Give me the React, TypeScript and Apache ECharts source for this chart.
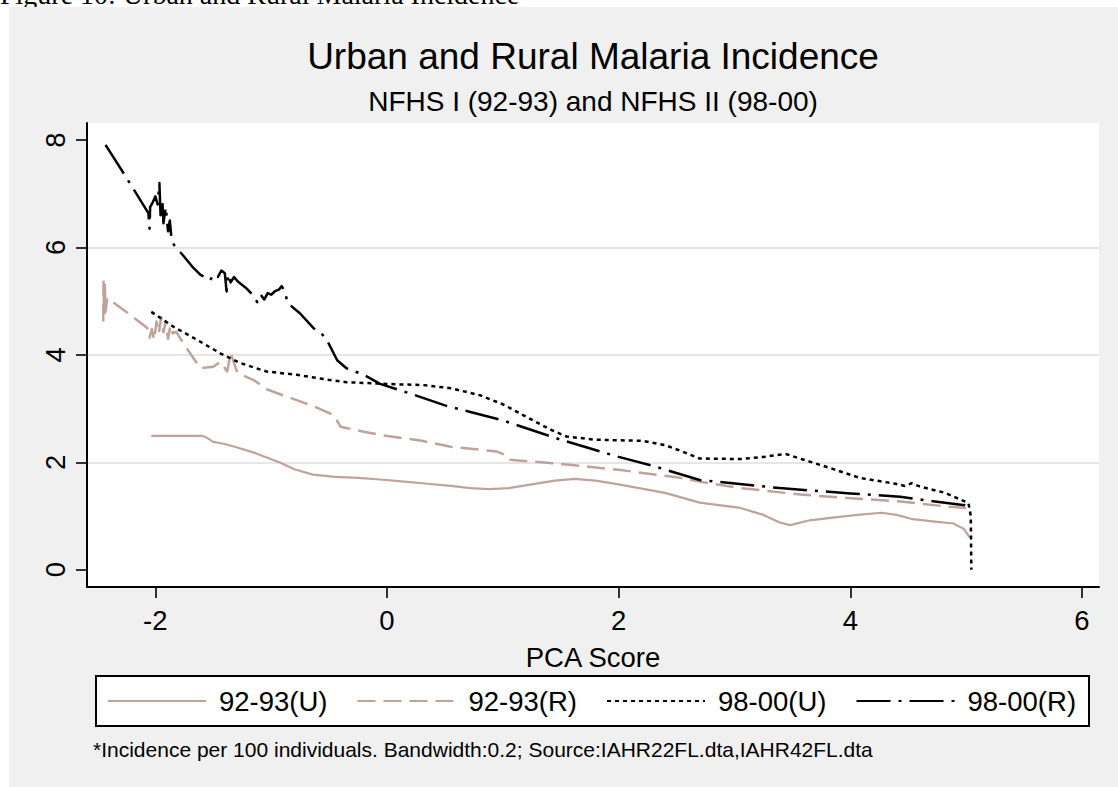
import React, { useEffect, useRef } from 'react';
import * as echarts from 'echarts';

const SERIES_NAMES = ['92-93(U)', '92-93(R)', '98-00(U)', '98-00(R)'];
const X_TICKS = [-2, 0, 2, 4, 6];
const Y_TICKS = [0, 2, 4, 6, 8];

const U92_X = [-2.035, -1.59, -1.55, -1.50, -1.40, -1.30, -1.15, -1.05, -0.92, -0.80, -0.64, -0.45, -0.25, -0.06, 0.15, 0.35, 0.55, 0.72, 0.88, 1.05, 1.25, 1.45, 1.62, 1.80, 2.00, 2.20, 2.40, 2.70, 3.05, 3.25, 3.39, 3.48, 3.65, 3.85, 4.06, 4.27, 4.40, 4.54, 4.75, 4.89, 4.98, 5.03];
const U92_Y = [2.49, 2.49, 2.45, 2.38, 2.34, 2.28, 2.18, 2.10, 1.99, 1.87, 1.77, 1.73, 1.71, 1.68, 1.64, 1.60, 1.56, 1.52, 1.50, 1.52, 1.59, 1.66, 1.69, 1.66, 1.59, 1.51, 1.43, 1.25, 1.15, 1.02, 0.88, 0.83, 0.92, 0.97, 1.02, 1.06, 1.02, 0.94, 0.89, 0.86, 0.76, 0.60];

const R92_X = [-2.45, -2.447, -2.443, -2.436, -2.43, -2.415, -2.25, -2.07, -2.05, -2.03, -2.01, -1.99, -1.97, -1.95, -1.93, -1.91, -1.89, -1.87, -1.85, -1.82, -1.76, -1.70, -1.61, -1.50, -1.44, -1.38, -1.35, -1.29, -1.15, -1.04, -0.86, -0.63, -0.46, -0.40, -0.20, -0.06, 0.30, 0.55, 0.95, 1.02, 1.05, 1.50, 2.00, 2.50, 2.70, 3.05, 3.57, 4.00, 4.43, 4.86, 5.00];
const R92_Y = [4.62, 5.36, 4.70, 5.30, 4.80, 5.06, 4.80, 4.50, 4.32, 4.48, 4.28, 4.62, 4.40, 4.70, 4.42, 4.62, 4.30, 4.55, 4.40, 4.43, 4.22, 4.03, 3.75, 3.78, 3.87, 3.69, 4.03, 3.66, 3.53, 3.36, 3.22, 3.04, 2.88, 2.66, 2.57, 2.51, 2.40, 2.29, 2.20, 2.14, 2.05, 1.97, 1.86, 1.72, 1.64, 1.52, 1.40, 1.33, 1.27, 1.17, 1.15];

const U98_X = [-2.035, -1.84, -1.64, -1.44, -1.27, -1.04, -0.78, -0.49, -0.35, -0.12, 0.10, 0.30, 0.55, 0.80, 1.00, 1.20, 1.40, 1.55, 1.80, 2.00, 2.20, 2.40, 2.55, 2.70, 3.05, 3.25, 3.39, 3.45, 3.52, 3.83, 4.08, 4.39, 4.47, 4.53, 4.60, 4.82, 5.02, 5.04, 5.045];
const U98_Y = [4.80, 4.52, 4.28, 4.03, 3.85, 3.69, 3.63, 3.53, 3.49, 3.47, 3.45, 3.44, 3.38, 3.25, 3.08, 2.85, 2.62, 2.48, 2.42, 2.41, 2.40, 2.32, 2.20, 2.07, 2.06, 2.10, 2.14, 2.15, 2.10, 1.89, 1.71, 1.60, 1.56, 1.61, 1.55, 1.43, 1.24, 1.00, 0.00];

const R98_X = [-2.43, -2.25, -2.06, -2.05, -2.045, -2.02, -2.0, -1.98, -1.965, -1.955, -1.94, -1.93, -1.91, -1.89, -1.875, -1.86, -1.84, -1.76, -1.68, -1.61, -1.525, -1.50, -1.46, -1.43, -1.40, -1.385, -1.37, -1.35, -1.32, -1.29, -1.22, -1.15, -1.12, -1.09, -1.06, -1.03, -1.00, -0.97, -0.93, -0.91, -0.88, -0.86, -0.75, -0.63, -0.57, -0.52, -0.43, -0.35, -0.20, -0.06, 0.20, 0.50, 1.00, 1.50, 2.00, 2.30, 2.70, 3.39, 4.00, 4.43, 4.73, 4.99, 5.04];
const R98_Y = [7.91, 7.30, 6.64, 6.35, 6.75, 6.85, 6.95, 6.80, 7.20, 6.60, 6.90, 6.45, 6.75, 6.30, 6.50, 6.15, 6.05, 5.85, 5.64, 5.49, 5.39, 5.50, 5.45, 5.57, 5.52, 5.18, 5.50, 5.35, 5.45, 5.37, 5.25, 5.10, 4.98, 5.12, 5.03, 5.15, 5.12, 5.18, 5.22, 5.28, 5.18, 4.97, 4.77, 4.49, 4.41, 4.28, 3.90, 3.75, 3.63, 3.46, 3.28, 3.06, 2.78, 2.42, 2.10, 1.93, 1.67, 1.52, 1.42, 1.36, 1.27, 1.20, 1.15];

const zip = (xs: number[], ys: number[]) => xs.map((x, i) => [x, ys[i]]);

const FONT = "'Liberation Sans', Arial, sans-serif";
const PINK = '#bfa39b';
const BLACK = '#000000';

function buildOption() {
  const lineSeries = (name: string, data: number[][], color: string, width: number, type: any) => ({
    type: 'line',
    name,
    data,
    showSymbol: false,
    symbol: 'none',
    smooth: false,
    clip: true,
    lineStyle: { color, width, type, cap: 'butt', join: 'round' },
    itemStyle: { color },
    emphasis: { disabled: true },
  });

  return {
    animation: false,
    backgroundColor: '#ffffff',
    grid: {
      left: 87,
      top: 123,
      width: 1012,
      height: 464,
      show: true,
      backgroundColor: '#ffffff',
      borderWidth: 0,
      containLabel: false,
    },
    xAxis: {
      type: 'value',
      min: -2.59,
      max: 6.147,
      minInterval: 2,
      maxInterval: 2,
      name: 'PCA Score',
      nameLocation: 'middle',
      nameGap: 56,
      nameTextStyle: { fontFamily: FONT, fontSize: 27.5, color: BLACK },
      axisLine: { show: true, onZero: false, lineStyle: { color: BLACK, width: 2 } },
      axisTick: { show: true, length: 11, customValues: X_TICKS, lineStyle: { color: BLACK, width: 1.6 } },
      axisLabel: { show: true, customValues: X_TICKS, fontFamily: FONT, fontSize: 27.5, color: BLACK, margin: 19 },
      splitLine: { show: false },
    },
    yAxis: {
      type: 'value',
      min: -0.322,
      max: 8.317,
      minInterval: 2,
      maxInterval: 2,
      axisLine: { show: true, onZero: false, lineStyle: { color: BLACK, width: 2 } },
      axisTick: { show: true, length: 11, customValues: Y_TICKS, lineStyle: { color: BLACK, width: 1.6 } },
      axisLabel: { show: true, customValues: Y_TICKS, rotate: 90, fontFamily: FONT, fontSize: 27.5, color: BLACK, margin: 18 },
      splitLine: { show: true, showMinLine: false, showMaxLine: false, lineStyle: { color: '#e6e6e6', width: 2 } },
    },
    legend: {
      show: true,
      orient: 'horizontal',
      left: 107,
      top: 687,
      padding: 0,
      itemWidth: 98,
      itemHeight: 14,
      itemGap: 29,
      data: SERIES_NAMES,
      itemStyle: { opacity: 0, borderWidth: 0 },
      textStyle: { fontFamily: FONT, fontSize: 27.5, color: BLACK, padding: [0, 0, 0, 8] },
      selectedMode: false,
    },
    graphic: [
      {
        type: 'text',
        z: -3,
        x: 0,
        y: -5.5,
        style: {
          text: 'Figure 10: Urban and Rural Malaria Incidence',
          fontFamily: "'Liberation Serif', 'Times New Roman', serif",
          fontSize: 28,
          fill: '#000',
          verticalAlign: 'middle',
          align: 'left',
        },
      },
      {
        type: 'rect',
        z: -2,
        shape: { x: 9, y: 7, width: 1109, height: 780 },
        style: { fill: '#f0f0f0' },
        silent: true,
      },
      {
        type: 'text',
        x: 593,
        y: 56,
        style: {
          text: 'Urban and Rural Malaria Incidence',
          fontFamily: FONT,
          fontSize: 37,
          fill: '#000',
          align: 'center',
          verticalAlign: 'middle',
        },
      },
      {
        type: 'text',
        x: 593,
        y: 101.5,
        style: {
          text: 'NFHS I (92-93) and NFHS II (98-00)',
          fontFamily: FONT,
          fontSize: 28,
          fill: '#000',
          align: 'center',
          verticalAlign: 'middle',
        },
      },
      {
        type: 'rect',
        shape: { x: 96, y: 676, width: 993, height: 50 },
        style: { fill: '#ffffff', stroke: '#000000', lineWidth: 2 },
        silent: true,
      },
      {
        type: 'text',
        x: 93,
        y: 749.5,
        style: {
          text: '*Incidence per 100 individuals. Bandwidth:0.2; Source:IAHR22FL.dta,IAHR42FL.dta',
          fontFamily: FONT,
          fontSize: 21,
          fill: '#000',
          align: 'left',
          verticalAlign: 'middle',
        },
      },
    ],
    series: [
      lineSeries(SERIES_NAMES[0], zip(U92_X, U92_Y), PINK, 2.2, 'solid'),
      lineSeries(SERIES_NAMES[1], zip(R92_X, R92_Y), PINK, 2.5, [18, 8]),
      lineSeries(SERIES_NAMES[2], zip(U98_X, U98_Y), BLACK, 2.5, [4, 4]),
      lineSeries(SERIES_NAMES[3], zip(R98_X, R98_Y), BLACK, 2.5, [34, 8, 3, 8]),
    ],
  };
}

export default function App() {
  const ref = useRef<HTMLDivElement>(null);
  useEffect(() => {
    if (!ref.current) return;
    const chart = echarts.init(ref.current, null, { renderer: 'svg' });
    chart.setOption(buildOption() as any);
    return () => chart.dispose();
  }, []);
  return (
    <div
      ref={ref}
      style={{ position: 'absolute', left: 0, top: 0, width: 1118, height: 787 }}
    />
  );
}
